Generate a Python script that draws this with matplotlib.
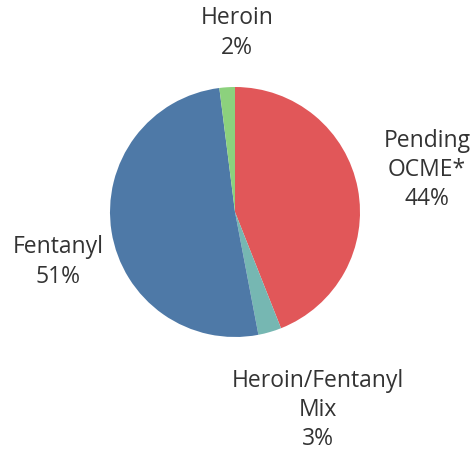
import matplotlib
matplotlib.use("Agg")
import matplotlib.pyplot as plt

categories = ["Pending\nOCME*", "Heroin/Fentanyl\nMix", "Fentanyl", "Heroin"]
values = [44, 3, 51, 2]
pct_labels = ["44%", "3%", "51%", "2%"]
colors = ["#E15759", "#76B7B2", "#4E79A7", "#8CD17D"]

plt.rcParams['font.family'] = ['Open Sans', 'DejaVu Sans']

fig = plt.figure(figsize=(4.7, 4.55), dpi=100)
ax = fig.add_axes([0, 0, 1, 1])
ax.pie(values, colors=colors, startangle=90, counterclock=False, radius=1,
       wedgeprops=dict(linewidth=0))
ax.set_xlim(-1.88, 1.88)
ax.set_ylim(-1.944, 1.696)
ax.set_aspect('equal')
ax.axis('off')

label_pos = [(1.536, 0.336), (0.664, -1.584), (-1.416, -0.40), (0.016, 1.432)]
for cat, pct, (x, y) in zip(categories, pct_labels, label_pos):
    ax.text(x, y, f"{cat}\n{pct}", ha='center', va='center', fontsize=16.5,
            color='#333333', linespacing=1.3)

fig.savefig("out.png", dpi=100)
